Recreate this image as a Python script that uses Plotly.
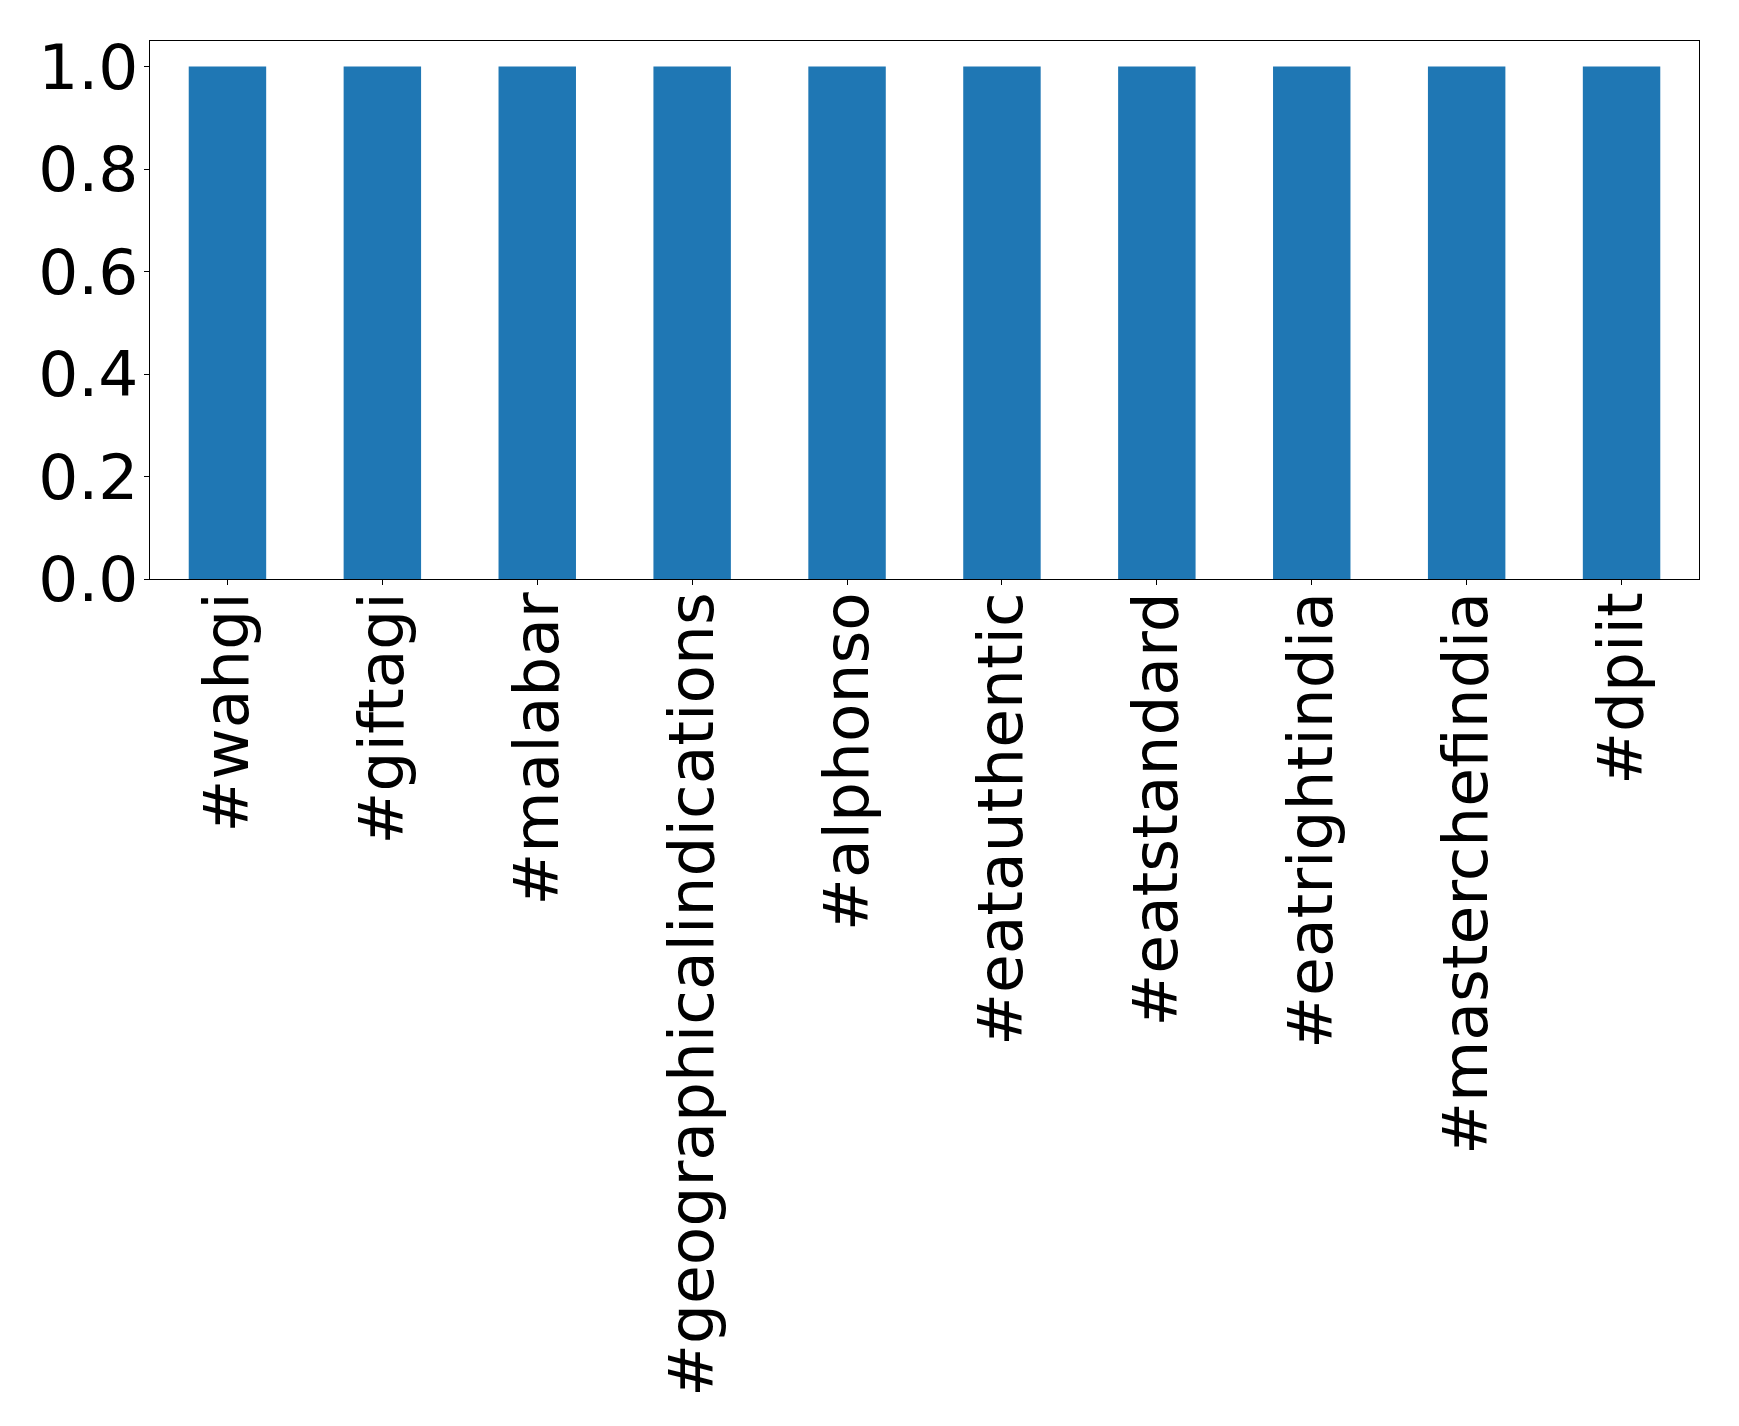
import plotly.graph_objects as go

categories = ["#wahgi", "#giftagi", "#malabar", "#geographicalindications", "#alphonso",
              "#eatauthentic", "#eatstandard", "#eatrightindia", "#masterchefindia", "#dpiit"]
values = [1, 1, 1, 1, 1, 1, 1, 1, 1, 1]
y_ticks = [0.0, 0.2, 0.4, 0.6, 0.8, 1.0]
y_tick_labels = ["0.0", "0.2", "0.4", "0.6", "0.8", "1.0"]

fig = go.Figure(go.Bar(x=list(range(len(categories))), y=values, width=0.5,
                       marker=dict(color="#1f77b4", line=dict(width=0))))

font = dict(family="DejaVu Sans", size=63, color="black")
fig.update_layout(
    width=1739, height=1426, autosize=False,
    margin=dict(l=149.5, r=39.5, t=40.7, b=846.7, pad=0),
    paper_bgcolor="white", plot_bgcolor="white",
    showlegend=False, font=font,
)
fig.update_xaxes(
    range=[-0.5, 9.5], tickmode="array", tickvals=list(range(len(categories))),
    ticktext=categories, tickangle=-90, ticks="outside", ticklen=5, tickwidth=1.1,
    tickcolor="black", showline=True, linecolor="black", linewidth=1.1, mirror=True,
    showgrid=False, zeroline=False, automargin=False, tickfont=font,
    ticklabelstandoff=-18,
)
fig.update_yaxes(
    range=[0, 1.05], tickmode="array", tickvals=y_ticks, ticktext=y_tick_labels,
    ticks="outside", ticklen=5, tickwidth=1.1, tickcolor="black",
    showline=True, linecolor="black", linewidth=1.1, mirror=True,
    showgrid=False, zeroline=False, automargin=False, tickfont=font,
    ticklabelstandoff=-7,
)
fig.write_html("out.html")
